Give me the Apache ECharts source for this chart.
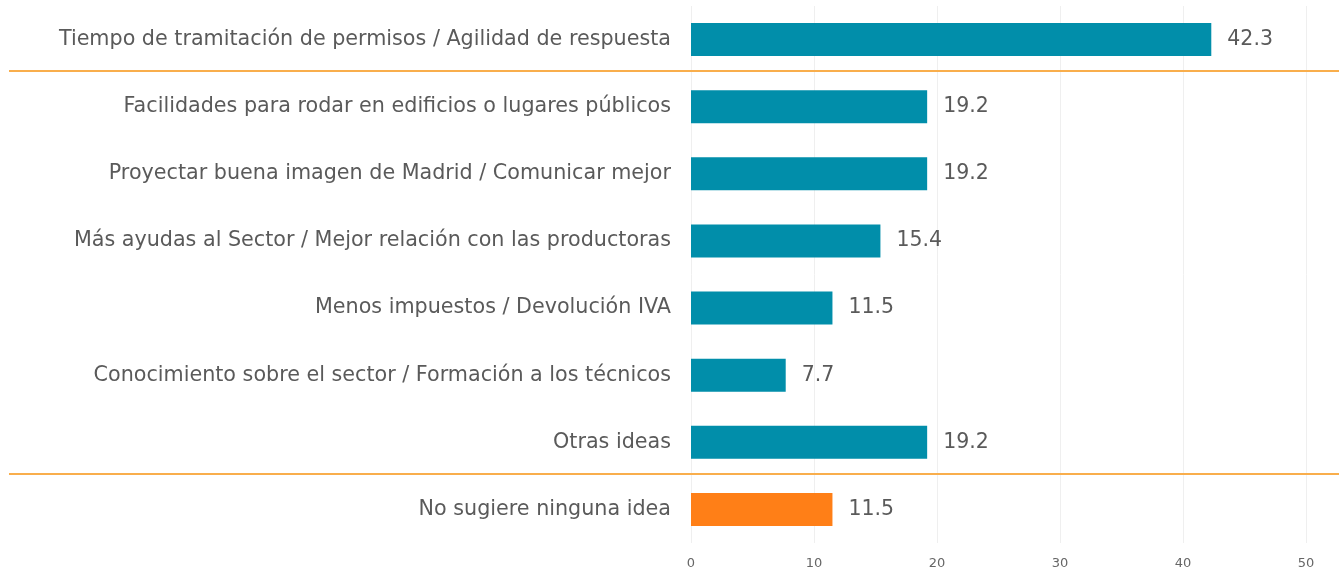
<!DOCTYPE html>
<html>
<head>
<meta charset="utf-8">
<script src="https://cdn.jsdelivr.net/npm/echarts@6/dist/echarts.min.js"></script>
<style>
  html, body { margin: 0; padding: 0; background: #fff; }
  #chart { width: 1339px; height: 573px; }
</style>
</head>
<body>
<div id="chart"></div>
<script>
var categories = [
  'Tiempo de tramitación de permisos / Agilidad de respuesta',
  'Facilidades para rodar en edificios o lugares públicos',
  'Proyectar buena imagen de Madrid / Comunicar mejor',
  'Más ayudas al Sector / Mejor relación con las productoras',
  'Menos impuestos / Devolución IVA',
  'Conocimiento sobre el sector / Formación a los técnicos',
  'Otras ideas',
  'No sugiere ninguna idea'
];
var values = [42.3, 19.2, 19.2, 15.4, 11.5, 7.7, 19.2, 11.5];
var highlighted = [false, false, false, false, false, false, false, true];
// separators drawn after these category indexes
var separatorsAfter = [0, 6];

var teal = '#018EAA';
var orange = '#FF7F17';
var font = 'DejaVu Sans';

var chart = echarts.init(document.getElementById('chart'));

chart.setOption({
  animation: false,
  grid: { left: 691, right: 33, top: 6, bottom: 30, containLabel: false },
  xAxis: {
    type: 'value',
    min: 0,
    max: 50,
    interval: 10,
    axisLine: { show: false },
    axisTick: { show: false },
    splitLine: { lineStyle: { color: '#EFEFEF', width: 1 } },
    axisLabel: { color: '#666', fontFamily: font, fontSize: 13, margin: 14 }
  },
  yAxis: {
    type: 'category',
    data: categories,
    inverse: true,
    axisLine: { show: false },
    axisTick: { show: false },
    axisLabel: {
      color: '#5a5a5a', fontFamily: font, fontSize: 20.7,
      margin: 20, padding: [8, 0, 0, 0]
    }
  },
  series: [{
    type: 'bar',
    barWidth: 33,
    data: values.map(function (v, i) {
      return { value: v, itemStyle: { color: highlighted[i] ? orange : teal } };
    }),
    label: {
      show: true,
      position: 'right',
      distance: 16,
      color: '#5a5a5a',
      fontFamily: font,
      fontSize: 20.5,
      padding: [9, 0, 0, 0],
      formatter: function (p) { return p.value.toFixed(1); }
    }
  }]
});

// orange separator lines between groups, positioned from the category axis
var lines = separatorsAfter.map(function (idx) {
  var y1 = chart.convertToPixel({ yAxisIndex: 0 }, categories[idx]);
  var y2 = chart.convertToPixel({ yAxisIndex: 0 }, categories[idx + 1]);
  var y = Math.round((y1 + y2) / 2) - 2;
  return {
    type: 'line',
    shape: { x1: 9, y1: y, x2: 1339, y2: y },
    style: { stroke: '#F9AE4C', lineWidth: 2 },
    z: 10
  };
});
chart.setOption({ graphic: lines });
</script>
</body>
</html>
